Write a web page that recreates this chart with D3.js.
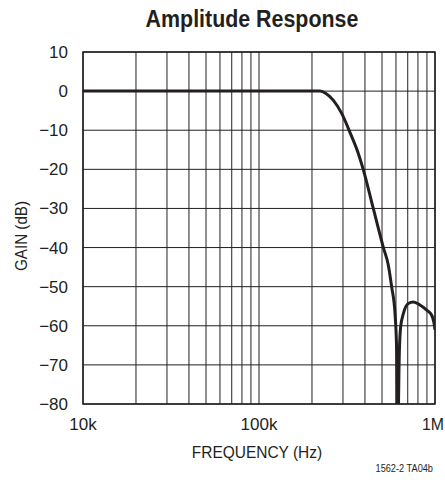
<!DOCTYPE html>
<html>
<head>
<meta charset="utf-8">
<script src="https://cdn.jsdelivr.net/npm/d3@7"></script>
<style>
  body { margin: 0; background: #fff; }
  text { fill: #231f20; }
</style>
</head>
<body>
<svg id="chart" width="445" height="489"></svg>
<script>
const freqHz = [10000, 100000, 200000, 222000, 240000, 264000, 295000, 329000, 367000, 391000,
  446000, 509000, 543000, 567000, 593000, 606000, 611000, 616000, 627000, 638000, 661000,
  705000, 753000, 822000, 897000, 958000, 987000, 1000000];
const gainDb = [0, 0, 0, 0, -0.6, -2.3, -5.7, -10.6, -16, -20,
  -30, -40, -44.5, -50, -57, -67, -85, -85, -67, -60.3, -56.9,
  -54.3, -53.9, -54.7, -56, -57.3, -59.3, -61];
const yTicks = [10, 0, -10, -20, -30, -40, -50, -60, -70, -80];
const xTicks = [10000, 100000, 1000000];
const xTickLabels = ["10k", "100k", "1M"];
const titleText = "Amplitude Response";
const xTitle = "FREQUENCY (Hz)";
const yTitle = "GAIN (dB)";
const footText = "1562-2 TA04b";

const W = 445;
const svg = d3.select("#chart");
const m = {left: 83, right: 435, top: 52, bottom: 404};
const x = d3.scaleLog().domain([1e4, 1e6]).range([m.left, m.right]);
const y = d3.scaleLinear().domain([-80, 10]).range([m.bottom, m.top]);
const font = "'Liberation Sans', Arial, sans-serif";
const ink = "#231f20";

function squeeze(sel, factor) {
  sel.each(function() {
    const len = this.getComputedTextLength();
    d3.select(this).attr("textLength", len * factor).attr("lengthAdjust", "spacingAndGlyphs");
  });
}

const vGrid = [];
for (let d = 1e4; d < 1e6; d *= 10) for (let k = 1; k <= 9; k++) vGrid.push(d * k);
vGrid.push(1e6);

svg.append("clipPath").attr("id", "clip").append("rect")
  .attr("x", m.left).attr("y", m.top).attr("width", m.right - m.left).attr("height", m.bottom - m.top);

svg.append("g").selectAll("line").data(vGrid).join("line")
  .attr("x1", d => x(d)).attr("x2", d => x(d))
  .attr("y1", m.top).attr("y2", m.bottom)
  .attr("stroke", ink).attr("stroke-width", 1);

svg.append("g").selectAll("line").data(yTicks).join("line")
  .attr("x1", m.left).attr("x2", m.right)
  .attr("y1", d => y(d)).attr("y2", d => y(d))
  .attr("stroke", ink).attr("stroke-width", 1);

svg.append("rect").attr("x", m.left).attr("y", m.top)
  .attr("width", m.right - m.left).attr("height", m.bottom - m.top)
  .attr("fill", "none").attr("stroke", ink).attr("stroke-width", 1.5);

const pts = freqHz.map((f, i) => [f, gainDb[i]]);
svg.append("path").datum(pts)
  .attr("clip-path", "url(#clip)")
  .attr("fill", "none").attr("stroke", ink).attr("stroke-width", 3)
  .attr("stroke-linejoin", "round")
  .attr("d", d3.line().x(d => x(d[0])).y(d => y(d[1])).curve(d3.curveMonotoneX));

const fmt = d3.format("d");
svg.append("g").selectAll("text").data(yTicks).join("text")
  .attr("x", 68).attr("y", d => y(d)).attr("dy", "0.35em")
  .attr("text-anchor", "end")
  .attr("font-family", font).attr("font-size", 17)
  .text(d => fmt(d));

svg.append("g").selectAll("text").data(xTicks).join("text")
  .attr("x", d => Math.min(x(d), W - 12)).attr("y", 430)
  .attr("text-anchor", "middle")
  .attr("font-family", font).attr("font-size", 17)
  .text((d, i) => xTickLabels[i])
  .each(function() {
    const len = this.getComputedTextLength();
    const cx = +d3.select(this).attr("x");
    const maxLen = 2 * (W - 1 - cx);
    if (len > maxLen) d3.select(this).attr("textLength", maxLen).attr("lengthAdjust", "spacingAndGlyphs");
  });

svg.append("text").attr("x", 252).attr("y", 27)
  .attr("text-anchor", "middle").attr("font-family", font)
  .attr("font-size", 23).attr("font-weight", "bold")
  .text(titleText).call(squeeze, 0.93);

svg.append("text").attr("x", 257).attr("y", 458)
  .attr("text-anchor", "middle").attr("font-family", font)
  .attr("font-size", 17)
  .text(xTitle).call(squeeze, 0.91);

svg.append("text").attr("transform", "translate(27,236) rotate(-90)")
  .attr("text-anchor", "middle").attr("font-family", font)
  .attr("font-size", 16)
  .text(yTitle).call(squeeze, 0.95);

svg.append("text").attr("x", 433).attr("y", 472)
  .attr("text-anchor", "end").attr("font-family", font)
  .attr("font-size", 10)
  .text(footText).call(squeeze, 0.92);
</script>
</body>
</html>
